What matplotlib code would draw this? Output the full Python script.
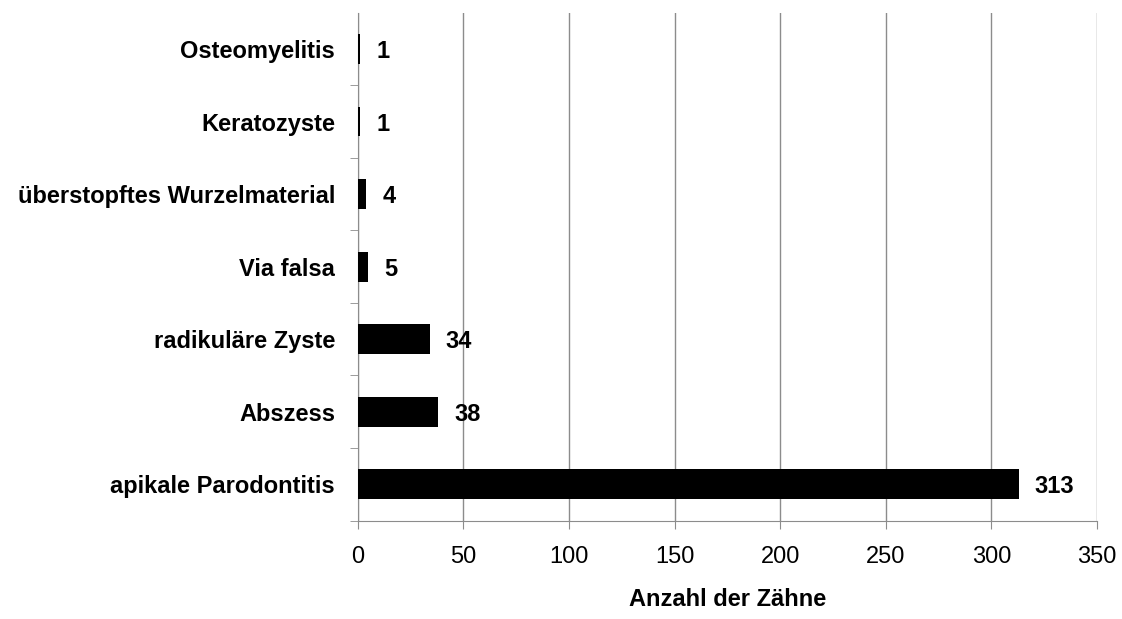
import matplotlib.pyplot as plt
import numpy as np

# data
categories = ["apikale Parodontitis", "Abszess", "radikuläre Zyste", "Via falsa",
              "überstopftes Wurzelmaterial", "Keratozyste", "Osteomyelitis"]
counts = [313, 38, 34, 5, 4, 1, 1]
xticks = [0, 50, 100, 150, 200, 250, 300, 350]

plt.rcParams['font.family'] = ['Liberation Sans', 'DejaVu Sans']

fig = plt.figure(figsize=(11.22, 6.19), dpi=100)
ax = fig.add_axes([0.319, 0.159, 0.9777 - 0.319, 0.8205])

ypos = np.arange(len(categories))
ax.barh(ypos, counts, height=0.41, color="black", zorder=3)

# value labels right of the bars
for y, v in zip(ypos, counts):
    ax.annotate(str(v), (v, y), xytext=(11.5, 0), textcoords="offset points",
                va="center_baseline", ha="left", fontsize=17, fontweight="bold")

ax.set_xlim(0, 350)
ax.set_ylim(-0.5, len(categories) - 0.5)
ax.set_xticks(xticks)
ax.tick_params(axis="x", labelsize=17, length=6, color="#8c8c8c", pad=12)
ax.grid(axis="x", color="#8c8c8c", linewidth=1, zorder=0)

# category labels without ticks, ticks at the boundaries
ax.set_yticks(ypos)
ax.set_yticklabels(categories, fontsize=17, fontweight="bold")
ax.tick_params(axis="y", length=0, pad=16.5)
ax.set_yticks(np.arange(-0.5, len(categories) - 1, 1.0), minor=True)
ax.tick_params(axis="y", which="minor", length=6, color="#8c8c8c")

for s in ["top", "right"]:
    ax.spines[s].set_visible(False)
for s in ["left", "bottom"]:
    ax.spines[s].set_color("#8c8c8c")

ax.set_xlabel("Anzahl der Zähne", fontsize=17, fontweight="bold", labelpad=15)

fig.savefig("out.png", dpi=100)
